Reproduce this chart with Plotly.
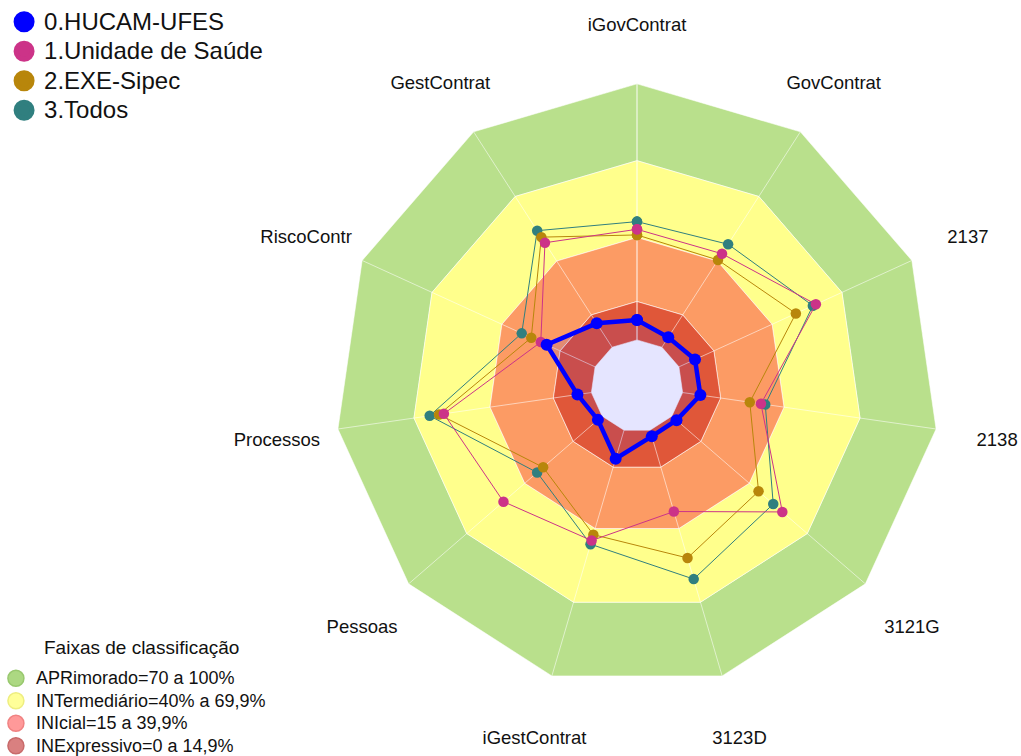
import plotly.graph_objects as go

categories = ["iGovContrat", "GovContrat", "2137", "2138", "3121G", "3123D",
              "iGestContrat", "Pessoas", "Processos", "RiscoContr", "GestContrat"]

series_names = ["0.HUCAM-UFES", "1.Unidade de Saúde", "2.EXE-Sipec", "3.Todos"]
hucam = [7.8, 4.6, 6.9, 7.0, 2.4, 2.5, 11.6, 2.2, 5.5, 20.8, 11.1]
unidade = [43.2, 43.4, 58.8, 30.9, 57.1, 33.1, 44.9, 51.0, 58.2, 23.3, 48.5]
exe_sipec = [41.0, 40.5, 50.2, 26.5, 44.8, 52.0, 42.5, 30.5, 60.1, 27.4, 51.1]
todos = [46.2, 47.8, 57.5, 32.6, 52.4, 60.6, 46.4, 33.6, 63.8, 31.5, 54.1]
series_colors = ["#0000FF", "#CC3388", "#B8860B", "#307F7F"]

band_title = "Faixas de classificação"
band_names = ["APRimorado=70 a 100%", "INTermediário=40% a 69,9%",
              "INIcial=15 a 39,9%", "INExpressivo=0 a 14,9%"]
band_low = [70, 40, 15, 0]
band_high = [100, 70, 40, 15]
band_fill = ["#B9E08C", "#FFFF8C", "#FC9B64", "#E05739"]
band_legend_fill = ["#ACD882", "#FFFF99", "#FF9999", "#D98080"]
band_legend_line = ["#98C86E", "#EEEE80", "#F08282", "#C86A6A"]

INNER = 18          # empty inner offset (in value units) before 0
R_MAX = 126.5
LABEL_R = 99.4      # on the label subplot (range 0-100)
FONT = "Arial, Liberation Sans, sans-serif"

fig = go.Figure()

closed_theta = categories + [categories[0]]
n = len(categories)

# classification bands as polygon annuli
for lo, hi, col in zip(band_low, band_high, band_fill):
    fig.add_trace(go.Scatterpolar(
        r=[hi] * (n + 1) + [lo] * (n + 1),
        theta=closed_theta + closed_theta[::-1],
        mode="lines", fill="toself", fillcolor=col,
        line=dict(color="rgba(255,255,255,0.55)", width=1),
        hoverinfo="skip", showlegend=False))

# spokes
spoke_r, spoke_t = [], []
for c in categories:
    spoke_r += [0, 100, None]
    spoke_t += [c, c, None]
fig.add_trace(go.Scatterpolar(
    r=spoke_r, theta=spoke_t, mode="lines",
    line=dict(color="rgba(255,255,255,0.55)", width=1),
    hoverinfo="skip", showlegend=False, connectgaps=False))

# translucent fill of the HUCAM polygon (covers the center too)
fig.add_trace(go.Scatterpolar(
    r=hucam + [hucam[0]], theta=closed_theta, mode="lines",
    line=dict(width=0, color="rgba(0,0,255,0)"),
    fill="toself", fillcolor="rgba(0,0,255,0.1)",
    hoverinfo="skip", showlegend=False))

# data series (drawn back to front) on an identical polar with a hole
data = [hucam, unidade, exe_sipec, todos]
for idx in [3, 2, 1]:
    vals = data[idx]
    fig.add_trace(go.Scatterpolar(
        r=vals + [vals[0]], theta=closed_theta, mode="lines+markers",
        line=dict(color=series_colors[idx], width=1),
        marker=dict(size=10.5, color=series_colors[idx]),
        name=series_names[idx], showlegend=False, subplot="polar2"))
fig.add_trace(go.Scatterpolar(
    r=hucam + [hucam[0]], theta=closed_theta, mode="lines+markers",
    line=dict(color=series_colors[0], width=4.5),
    marker=dict(size=12, color=series_colors[0]),
    name=series_names[0], showlegend=False, subplot="polar2"))

# category labels
fig.add_trace(go.Scatterpolar(
    r=[LABEL_R] * n, theta=categories, mode="text", text=categories,
    textposition="middle center", textfont=dict(size=18.5, color="#111111", family=FONT),
    cliponaxis=False, hoverinfo="skip", showlegend=False, subplot="polar3"))

# legend entries
for name, col in zip(series_names, series_colors):
    fig.add_trace(go.Scatterpolar(
        r=[None], theta=[categories[0]], mode="markers",
        name='<span style="font-size:24px">' + name + '</span>',
        marker=dict(size=16, color=col, line=dict(color=col, width=5)),
        legend="legend"))
for name, fc, lc in zip(band_names, band_legend_fill, band_legend_line):
    fig.add_trace(go.Scatterpolar(
        r=[None], theta=[categories[0]], mode="markers",
        name='<span style="font-size:18px">' + name + '</span>',
        marker=dict(size=16, color=fc, line=dict(color=lc, width=1.5)),
        legend="legend2"))


def polar_cfg(domain_x, domain_y, rng, hole=0.0, bg="rgba(0,0,0,0)"):
    return dict(
        domain=dict(x=domain_x, y=domain_y), hole=hole, bgcolor=bg,
        gridshape="linear",
        radialaxis=dict(range=rng, visible=False, showgrid=False),
        angularaxis=dict(type="category", categoryarray=categories,
                         direction="clockwise", rotation=90,
                         showticklabels=False, ticks="", showgrid=False,
                         showline=False))


main_x, main_y = [0.26151, 0.98629], [0.0, 0.97884]

fig.update_layout(
    template="none",
    width=1021, height=756,
    margin=dict(l=0, r=0, t=0, b=0, autoexpand=False),
    paper_bgcolor="white",
    font=dict(family=FONT, color="#111111"),
    polar=polar_cfg(main_x, main_y, [-INNER, R_MAX], bg="white"),
    polar2=polar_cfg(main_x, main_y, [0, R_MAX], hole=INNER / (INNER + R_MAX)),
    polar3=polar_cfg([0.26543, 0.98237], [0.0, 0.96825], [0, 100]),
    legend=dict(x=0.004, y=0.9974, xanchor="left", yanchor="top",
                font=dict(size=20.4, family=FONT, color="#111111"),
                bgcolor="rgba(0,0,0,0)", tracegroupgap=0),
    legend2=dict(x=-0.004, y=-0.008, xanchor="left", yanchor="bottom",
                 font=dict(size=15, family=FONT, color="#111111"),
                 bgcolor="rgba(0,0,0,0)"),
    annotations=[dict(text=band_title, xref="paper", yref="paper",
                      x=141 / 1021, y=(756 - 647) / 756, xanchor="center",
                      yanchor="middle", showarrow=False,
                      font=dict(size=19, family=FONT, color="#111111"))],
    showlegend=True,
)

fig.write_html("out.html", config={"displayModeBar": False},
               post_script="document.body.style.margin='0';document.body.style.overflow='hidden';")
